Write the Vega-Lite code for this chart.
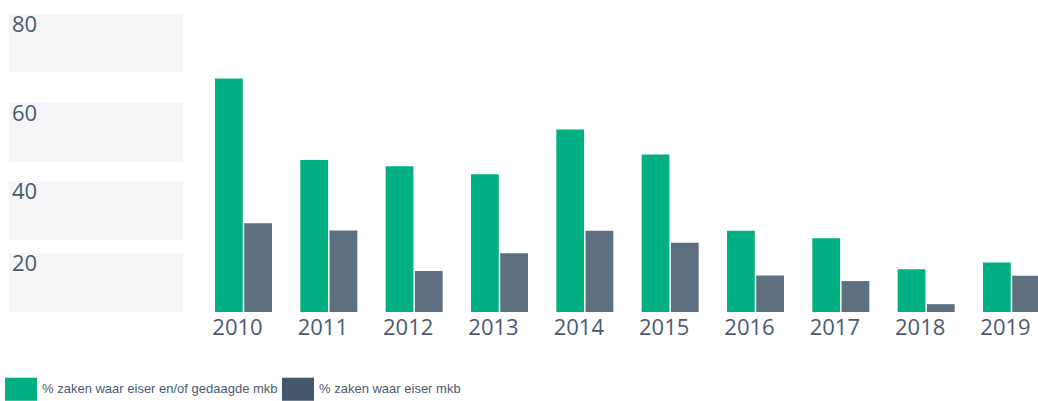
{
  "$schema": "https://vega.github.io/schema/vega-lite/v6.json",
  "padding": {"left": 5, "top": 14, "right": 0, "bottom": 0},
  "background": "white",
  "config": {"view": {"stroke": null}, "concat": {"spacing": 32}},
  "bounds": "flush",
  "datasets": {
    "bands": [
      {"label": "80", "top": 80, "bottom": 64.4},
      {"label": "60", "top": 56.1, "bottom": 40.3},
      {"label": "40", "top": 35.2, "bottom": 19.3},
      {"label": "20", "top": 15.8, "bottom": 0}
    ],
    "bars": [
      {"year": "2010", "series": "% zaken waar eiser en/of gedaagde mkb", "value": 62.7},
      {"year": "2010", "series": "% zaken waar eiser mkb", "value": 23.8},
      {"year": "2011", "series": "% zaken waar eiser en/of gedaagde mkb", "value": 40.8},
      {"year": "2011", "series": "% zaken waar eiser mkb", "value": 21.9},
      {"year": "2012", "series": "% zaken waar eiser en/of gedaagde mkb", "value": 39.1},
      {"year": "2012", "series": "% zaken waar eiser mkb", "value": 11.0},
      {"year": "2013", "series": "% zaken waar eiser en/of gedaagde mkb", "value": 37.0},
      {"year": "2013", "series": "% zaken waar eiser mkb", "value": 15.8},
      {"year": "2014", "series": "% zaken waar eiser en/of gedaagde mkb", "value": 49.0},
      {"year": "2014", "series": "% zaken waar eiser mkb", "value": 21.8},
      {"year": "2015", "series": "% zaken waar eiser en/of gedaagde mkb", "value": 42.3},
      {"year": "2015", "series": "% zaken waar eiser mkb", "value": 18.6},
      {"year": "2016", "series": "% zaken waar eiser en/of gedaagde mkb", "value": 21.8},
      {"year": "2016", "series": "% zaken waar eiser mkb", "value": 9.8},
      {"year": "2017", "series": "% zaken waar eiser en/of gedaagde mkb", "value": 19.8},
      {"year": "2017", "series": "% zaken waar eiser mkb", "value": 8.3},
      {"year": "2018", "series": "% zaken waar eiser en/of gedaagde mkb", "value": 11.5},
      {"year": "2018", "series": "% zaken waar eiser mkb", "value": 2.1},
      {"year": "2019", "series": "% zaken waar eiser en/of gedaagde mkb", "value": 13.3},
      {"year": "2019", "series": "% zaken waar eiser mkb", "value": 9.7}
    ]
  },
  "hconcat": [
    {
      "width": 178,
      "height": 298,
      "data": {"name": "bands"},
      "layer": [
        {
          "mark": {"type": "rect", "color": "#f5f6f8"},
          "encoding": {
            "x": {"value": 4},
            "x2": {"value": "width"},
            "y": {"field": "top", "type": "quantitative", "scale": {"domain": [0, 80]}, "axis": null},
            "y2": {"field": "bottom"}
          }
        },
        {
          "mark": {"type": "text", "align": "left", "baseline": "top", "font": "Open Sans", "fontSize": 22, "color": "#4a5c6f", "dy": 1},
          "encoding": {
            "x": {"value": 7},
            "y": {"field": "top", "type": "quantitative", "scale": {"domain": [0, 80]}, "axis": null},
            "text": {"field": "label"}
          }
        }
      ]
    },
    {
      "width": 825,
      "height": 298,
      "data": {"name": "bars"},
      "mark": {"type": "bar"},
      "encoding": {
        "x": {
          "field": "year", "type": "nominal",
          "scale": {"paddingInner": 0.332, "paddingOuter": 0},
          "axis": {"title": null, "domain": false, "ticks": false, "labelAngle": 0, "labelFont": "Open Sans", "labelFontSize": 22, "labelColor": "#4a5c6f", "labelPadding": 5, "labelOffset": -6}
        },
        "xOffset": {
          "field": "series", "type": "nominal",
          "scale": {"domain": ["% zaken waar eiser en/of gedaagde mkb", "% zaken waar eiser mkb"], "paddingInner": 0.05, "paddingOuter": 0}
        },
        "y": {"field": "value", "type": "quantitative", "scale": {"domain": [0, 80]}, "axis": null},
        "opacity": {"condition": {"test": "datum.series === '% zaken waar eiser mkb'", "value": 0.857}, "value": 1},
        "color": {
          "field": "series", "type": "nominal",
          "scale": {"domain": ["% zaken waar eiser en/of gedaagde mkb", "% zaken waar eiser mkb"], "range": ["#00b083", "#44576b"]},
          "legend": {
            "title": null,
            "orient": "none",
            "legendX": 0,
            "legendY": 359,
            "direction": "horizontal",
            "symbolType": "M-1,-0.72H1V0.72H-1Z",
            "symbolSize": 1024,
            "symbolStrokeWidth": 0,
            "symbolOpacity": 1,
            "labelFont": "Liberation Sans",
            "labelFontSize": 13,
            "labelColor": "#4a5c6f",
            "labelLimit": 400,
            "labelOffset": 5,
            "columnPadding": 4
          }
        }
      }
    }
  ]
}
